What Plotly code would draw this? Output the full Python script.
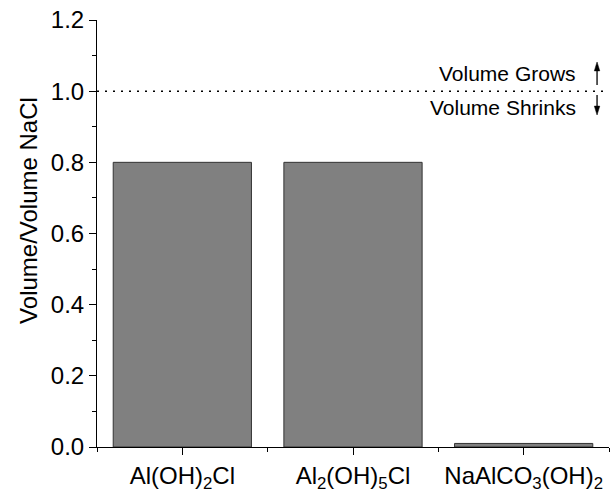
import plotly.graph_objects as go

categories = ["Al(OH)<sub>2</sub>Cl", "Al<sub>2</sub>(OH)<sub>5</sub>Cl", "NaAlCO<sub>3</sub>(OH)<sub>2</sub>"]
values = [0.80, 0.80, 0.01]
reference_level = 1.0
y_ticks = [0.0, 0.2, 0.4, 0.6, 0.8, 1.0, 1.2]

FONT = "Liberation Sans, Arial, sans-serif"
xpos = list(range(len(categories)))

fig = go.Figure()
fig.add_trace(go.Bar(
    x=xpos, y=values, width=0.81,
    marker=dict(color="#808080", line=dict(color="#333333", width=1)),
    showlegend=False, hoverinfo="skip",
))

fig.add_shape(type="line", xref="paper", x0=0, x1=1, yref="y",
              y0=reference_level, y1=reference_level,
              line=dict(color="black", width=1.5, dash="2px,6px"))

# Up / down arrows drawn as shapes
ax_x = 2.43
hw = 0.016
hl = 0.025
up_tail, up_tip = 1.017, 1.082
dn_tail, dn_tip = 0.989, 0.933
fig.add_shape(type="line", xref="x", yref="y", x0=ax_x, x1=ax_x, y0=up_tail, y1=up_tip - hl,
              line=dict(color="black", width=1.3), layer="above")
fig.add_shape(type="path", xref="x", yref="y",
              path=f"M {ax_x-hw},{up_tip-hl} L {ax_x+hw},{up_tip-hl} L {ax_x},{up_tip} Z",
              fillcolor="black", line=dict(color="black", width=0.5), layer="above")
fig.add_shape(type="line", xref="x", yref="y", x0=ax_x, x1=ax_x, y0=dn_tail, y1=dn_tip + hl,
              line=dict(color="black", width=1.3), layer="above")
fig.add_shape(type="path", xref="x", yref="y",
              path=f"M {ax_x-hw},{dn_tip+hl} L {ax_x+hw},{dn_tip+hl} L {ax_x},{dn_tip} Z",
              fillcolor="black", line=dict(color="black", width=0.5), layer="above")

fig.add_annotation(x=2.318, y=1.051, xref="x", yref="y", text="Volume Grows",
                   showarrow=False, xanchor="right", yanchor="middle",
                   font=dict(family=FONT, size=21, color="black"))
fig.add_annotation(x=2.318, y=0.953, xref="x", yref="y", text="Volume Shrinks",
                   showarrow=False, xanchor="right", yanchor="middle",
                   font=dict(family=FONT, size=21, color="black"))

# Y-axis title
fig.add_annotation(x=-0.135, y=0.555, xref="paper", yref="paper",
                   text="Volume/Volume NaCl", textangle=-90, showarrow=False,
                   xanchor="center", yanchor="middle",
                   font=dict(family=FONT, size=24, color="black"))

fig.update_layout(
    width=611, height=493,
    margin=dict(l=97, r=2, t=20, b=46),
    paper_bgcolor="white", plot_bgcolor="white",
    font=dict(family=FONT, size=24, color="black"),
    xaxis=dict(
        range=[-0.5, 2.5], tickmode="array", tickvals=xpos, ticktext=categories,
        showline=True, linecolor="black", linewidth=1, automargin=False,
        ticks="outside", ticklen=7, tickwidth=1, tickcolor="black",
        showgrid=False, zeroline=False,
        minor=dict(tick0=0.5, dtick=1, ticks="outside", ticklen=4,
                   tickcolor="black", tickwidth=1, showgrid=False),
        tickfont=dict(family=FONT, size=24),
    ),
    yaxis=dict(
        range=[0, 1.2], tickmode="array", tickvals=y_ticks, tickformat=".1f",
        showline=True, linecolor="black", linewidth=1, automargin=False,
        ticks="outside", ticklen=7, tickwidth=1, tickcolor="black",
        showgrid=False, zeroline=False,
        minor=dict(tick0=0, dtick=0.1, ticks="outside", ticklen=4,
                   tickcolor="black", tickwidth=1, showgrid=False),
        tickfont=dict(family=FONT, size=24),
    ),
    bargap=0.19,
)

fig.write_html("out.html", config={"displayModeBar": False},
               post_script="document.body.style.margin='0';")
